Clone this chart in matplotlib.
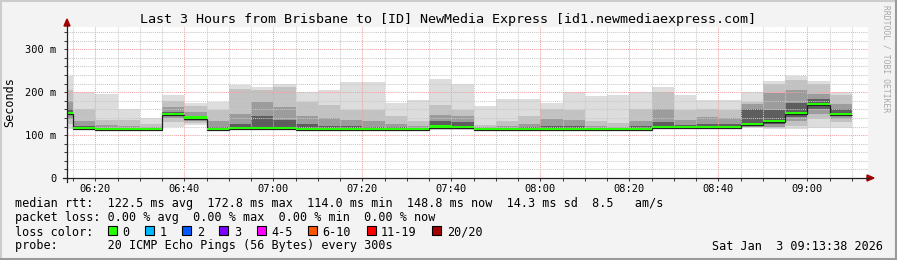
import numpy as np
import matplotlib
matplotlib.use("Agg")
import matplotlib.pyplot as plt
from matplotlib.patches import Rectangle, Polygon
from matplotlib.lines import Line2D
from matplotlib.ticker import MultipleLocator, FuncFormatter

W, H = 897, 260
MONO = "DejaVu Sans Mono"

## DATA

# 5 minute steps, first one starts 06:10 (minutes after midnight)
col_start = 370 + 5 * np.arange(36)
view_start, view_end = 373 + 38 / 60, 553 + 38 / 60   # 06:13:38 .. 09:13:38

# median rtt per step (ms)
median = [152, 117, 114, 114, 114, 149, 141, 114, 116.5, 116.5, 116.5, 114,
          115, 115, 114, 114, 114, 120, 118, 114, 114, 115, 114, 114,
          114, 114, 114.5, 118, 118, 118, 118, 125, 132, 151.5, 172.8, 148.8]

# smoke, outer -> inner (upper side)
hi1 = [238, 201, 195, 161, 140, 193, 176, 178, 216, 211, 219, 201,
       204, 223, 223, 174, 181, 230, 219, 167, 183, 185, 176, 201,
       190, 194, 201, 211, 193, 181, 181, 201, 227, 237, 227, 200]
hi2 = [205, 161, 136, 135, 125, 180, 168, 158, 208, 205, 212, 178,
       171, 159, 158, 144, 132, 171, 159, 124, 132, 144, 160, 159,
       132, 128, 161, 200, 159, 160, 158, 178, 218, 228, 218, 193]
hi3 = [180, 132, 123, 122, 119, 165, 155, 132, 150, 178, 165, 145,
       140, 135, 132, 125, 122, 148, 145, 118, 122, 125, 138, 136,
       122, 119, 132, 161, 135, 142, 140, 172, 198, 205, 196, 172]
hi4 = [160, 122, 117, 117, 116, 153, 145, 120, 125, 145, 135, 125,
       122, 122, 120, 118, 117, 132, 130, 116, 117, 119, 122, 122,
       117, 116, 121, 130, 123, 126, 126, 160, 159, 175, 185, 160]
# smoke, outer -> inner (lower side)
lo1 = [114, 113, 112, 112, 112, 120, 123, 112, 114, 114, 114, 112,
       113, 113, 112, 112, 112, 113, 113, 112, 112, 113, 112, 112,
       112, 112, 112.5, 115, 115, 115, 115, 116, 114, 114, 116, 116]
lo2 = [126, 114, 112.5, 112.5, 112.5, 130, 128, 112.5, 115, 115, 115, 112.5,
       113.5, 113.5, 112.5, 112.5, 112.5, 114, 114, 112.5, 112.5, 113.5, 112.5, 112.5,
       112.5, 112.5, 113, 116, 116, 116, 116, 118, 116, 122, 138, 131]
lo3 = [138, 115, 113, 113, 113, 140, 134, 113, 115.5, 115.5, 115.5, 113,
       114, 114, 113, 113, 113, 116, 115, 113, 113, 114, 113, 113,
       113, 113, 113.5, 117, 117, 117, 117, 120, 120, 132, 150, 138]
lo4 = [147, 116, 113.5, 113.5, 113.5, 146, 138, 113.5, 116, 116, 116, 113.5,
       114.5, 114.5, 113.5, 113.5, 113.5, 118, 116, 113.5, 113.5, 114.5, 113.5, 113.5,
       113.5, 113.5, 114, 117.5, 117.5, 117.5, 117.5, 122, 126, 142, 162, 145]

smoke_grays = ["#dddddd", "#c2c2c2", "#9c9c9c", "#5e5e5e"]

legend_rows = [
    "median rtt:  122.5 ms avg  172.8 ms max  114.0 ms min  148.8 ms now  14.3 ms sd  8.5   am/s",
    "packet loss: 0.00 % avg  0.00 % max  0.00 % min  0.00 % now",
    "loss color:",
    "probe:       20 ICMP Echo Pings (56 Bytes) every 300s",
]
loss_labels = ["0", "1", "2", "3", "4-5", "6-10", "11-19", "20/20"]
loss_colors = ["#26ff00", "#00b8ff", "#0059ff", "#7e00ff", "#ff00ff",
               "#ff5500", "#ff0000", "#a10000"]

## FIGURE

def fx(x):
    return x / W

def fy(y):
    return 1 - y / H

fig = plt.figure(figsize=(W / 100, H / 100), dpi=100, facecolor="#f3f3f3")
ax = fig.add_axes([fx(67), fy(178), fx(868 - 67), (178 - 27) / H])
ax.set_facecolor("white")

edges = np.append(col_start, col_start[-1] + 5)
levels = [(lo1, hi1), (lo2, hi2), (lo3, hi3), (lo4, hi4)]
for (lo, hi), g in zip(levels, smoke_grays):
    ax.stairs(hi, edges, baseline=lo, fill=True, color=g, zorder=1)

med = np.array(median)
ax.stairs(med - 2.5, edges, baseline=None, color="#202020", linewidth=0.9, zorder=3)
ax.stairs(med + 2.5, edges, baseline=med - 2.5, fill=True, color=loss_colors[0], zorder=3)

ax.set_xlim(view_start, view_end)
ax.set_ylim(0, 352)

ax.xaxis.set_major_locator(MultipleLocator(20))
ax.xaxis.set_minor_locator(MultipleLocator(5))
ax.yaxis.set_major_locator(MultipleLocator(100))
ax.yaxis.set_minor_locator(MultipleLocator(20))
ax.xaxis.set_major_formatter(FuncFormatter(lambda v, p: "%02d:%02d" % (int(round(v)) // 60, int(round(v)) % 60)))
ax.yaxis.set_major_formatter(FuncFormatter(lambda v, p: "0" if v == 0 else "%d m" % v))

ax.set_axisbelow(False)
ax.grid(which="minor", color="#c8c8c8", linestyle=(0, (1, 1)), linewidth=0.75)
ax.grid(which="major", color="#f2a2a2", linestyle=(0, (1, 1)), linewidth=0.75)

for s in ax.spines.values():
    s.set_visible(False)
ax.tick_params(which="both", direction="out", length=2.5, width=0.75, color="#404040",
               labelsize=7.5, top=False, right=False)
ax.tick_params(axis="x", pad=2)
ax.tick_params(axis="y", pad=5)
for lab in ax.get_xticklabels() + ax.get_yticklabels():
    lab.set_family(MONO)

# axes with arrows
fig.add_artist(Line2D([fx(63), fx(868)], [fy(178), fy(178)], color="#202020", lw=0.9))
fig.add_artist(Line2D([fx(67), fx(67)], [fy(182), fy(25)], color="#202020", lw=0.9))
fig.add_artist(Polygon([[fx(867), fy(175)], [fx(874), fy(178)], [fx(867), fy(181)]],
                       closed=True, color="#a00000"))
fig.add_artist(Polygon([[fx(64), fy(26)], [fx(67), fy(19)], [fx(70), fy(26)]],
                       closed=True, color="#a00000"))

fig.text(fx(448), fy(19), "Last 3 Hours from Brisbane to [ID] NewMedia Express [id1.newmediaexpress.com]",
         ha="center", va="center", family=MONO, fontsize=9.6)
fig.text(fx(10), fy(102), "Seconds", rotation=90, ha="center", va="center", family=MONO, fontsize=8.5)
fig.text(fx(886), fy(5), "RRDTOOL / TOBI OETIKER", rotation=270, ha="center", va="top",
         family=MONO, fontsize=5.8, color="#a8a8a8")

row_y = [204, 218, 232, 246]
for s, y in zip(legend_rows, row_y):
    fig.text(fx(14.5), fy(y), s, ha="left", va="center", family=MONO, fontsize=8.5)

bx = 108
for lab, col in zip(loss_labels, loss_colors):
    fig.add_artist(Rectangle((fx(bx), fy(235)), 9 / W, 9 / H, facecolor=col,
                             edgecolor="black", linewidth=0.8))
    fig.text(fx(bx + 14.5), fy(232), lab, ha="left", va="center", family=MONO, fontsize=8.5)
    bx += 30.0 + 7.14 * len(lab)

fig.text(fx(883), fy(246), "Sat Jan  3 09:13:38 2026", ha="right", va="center", family=MONO, fontsize=8.5)

# frame
fig.add_artist(Line2D([0, 1], [fy(0.5), fy(0.5)], color="#cccccc", lw=1.5))
fig.add_artist(Line2D([fx(0.5), fx(0.5)], [0, 1], color="#cccccc", lw=1.5))
fig.add_artist(Line2D([0, 1], [fy(259), fy(259)], color="#9a9a9a", lw=1.5))
fig.add_artist(Line2D([fx(896), fx(896)], [0, 1], color="#9a9a9a", lw=1.5))

fig.savefig("out.png", dpi=100, facecolor=fig.get_facecolor())
